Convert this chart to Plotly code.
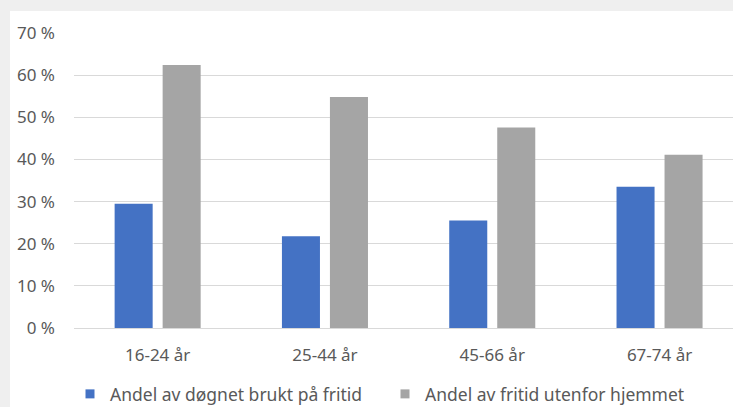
import plotly.graph_objects as go

categories = ["16-24 år", "25-44 år", "45-66 år", "67-74 år"]
fritid_andel = [29.5, 21.8, 25.5, 33.5]
utenfor_hjemmet = [62.4, 54.8, 47.6, 41.1]
series_names = ["Andel av døgnet brukt på fritid", "Andel av fritid utenfor hjemmet"]
series_colors = ["#4472C4", "#A5A5A5"]
y_ticks = [0, 10, 20, 30, 40, 50, 60, 70]
y_tick_text = [f"{v} %" for v in y_ticks]

W, H = 733, 407
ML, MR, MT, MB = 74, 0, 33, 79
pw, ph = W - ML - MR, H - MT - MB
cat_px = 167.3  # pixel width of one category slot

font = dict(family="Noto Sans, Open Sans, sans-serif", size=17, color="#595959")

fig = go.Figure()
for vals, name, col in zip([fritid_andel, utenfor_hjemmet], series_names, series_colors):
    fig.add_trace(go.Bar(x=categories, y=vals, name=name, showlegend=False,
                         marker=dict(color=col, line=dict(width=0))))
# small square legend keys
for name, col in zip(series_names, series_colors):
    fig.add_trace(go.Scatter(x=[None], y=[None], mode="markers", name=name,
                             marker=dict(symbol="square", size=9, color=col)))

# light grey frame along the top and left edges of the page
grey = "#efefef"
fig.add_shape(type="rect", xref="paper", yref="paper",
              x0=-ML / pw - 0.05, x1=1.05, y0=1 + (MT - 11) / ph, y1=1 + (MT + 10) / ph,
              fillcolor=grey, line=dict(width=0), layer="below")
fig.add_shape(type="rect", xref="paper", yref="paper",
              x0=-ML / pw - 0.05, x1=(10 - ML) / pw, y0=-(MB + 40) / ph, y1=1 + (MT + 10) / ph,
              fillcolor=grey, line=dict(width=0), layer="below")

fig.update_layout(
    width=W, height=H,
    margin=dict(l=ML, r=MR, t=MT, b=MB, autoexpand=False),
    paper_bgcolor="white",
    plot_bgcolor="rgba(0,0,0,0)",
    font=font,
    barmode="group",
    bargap=0.426,
    bargroupgap=0.208,
    showlegend=True,
    legend=dict(orientation="h", x=(70 - ML) / pw, xanchor="left",
                y=-(394 - (MT + ph)) / ph, yanchor="middle",
                entrywidth=270, entrywidthmode="pixels",
                itemwidth=30, font=dict(size=17.5, color="#595959"),
                bgcolor="rgba(0,0,0,0)"),
)
fig.update_xaxes(range=[-0.5, -0.5 + pw / cat_px], showgrid=False,
                 showline=True, linecolor="#d9d9d9", linewidth=1,
                 ticks="", ticklabelstandoff=12,
                 tickfont=dict(size=17, color="#595959"))
fig.update_yaxes(range=[0, 70], tickvals=y_ticks, ticktext=y_tick_text,
                 showgrid=True, gridcolor="#d9d9d9", gridwidth=1,
                 zeroline=False, showline=False, ticks="",
                 ticklabelstandoff=18,
                 tickfont=dict(size=17, color="#595959"))

fig.write_html("out.html")
